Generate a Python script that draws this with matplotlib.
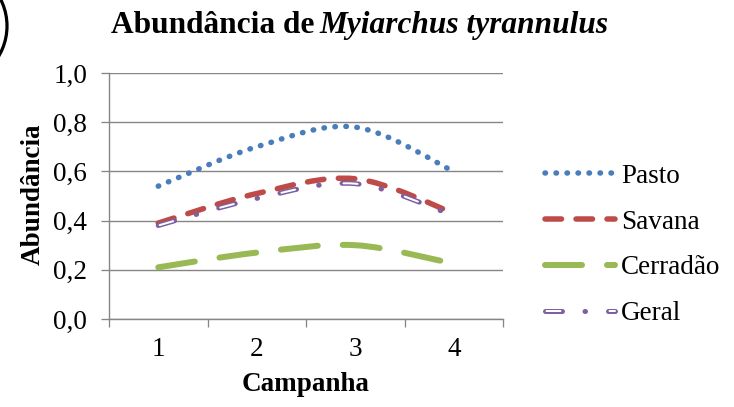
import numpy as np
import matplotlib.pyplot as plt
from matplotlib.path import Path
from matplotlib.patches import PathPatch, Circle
from matplotlib.lines import Line2D
from matplotlib.legend_handler import HandlerTuple

plt.rcParams['font.family'] = ['Liberation Serif', 'DejaVu Serif']
plt.rcParams['lines.scale_dashes'] = False

campanhas = [1, 2, 3, 4]
pasto = [0.54, 0.70, 0.78, 0.60]
savana = [0.39, 0.51, 0.57, 0.43]
cerradao = [0.21, 0.27, 0.30, 0.225]
geral = [0.38, 0.49, 0.55, 0.42]
series_names = ['Pasto', 'Savana', 'Cerradão', 'Geral']
y_ticks = [0.0, 0.2, 0.4, 0.6, 0.8, 1.0]
y_labels = ['0,0', '0,2', '0,4', '0,6', '0,8', '1,0']

W, H = 734, 407
PX = 0.72  # pixels -> points at dpi 100
GRAY = '#868686'
FS = 19.5


def smooth_path(xs, ys):
    # bezier curve through the points, like excel "smoothed line"
    pts = np.column_stack([xs, ys]).astype(float)
    n = len(pts)
    verts = [pts[0]]
    codes = [Path.MOVETO]
    for i in range(n - 1):
        p0 = pts[i - 1] if i > 0 else pts[i]
        p1 = pts[i]
        p2 = pts[i + 1]
        p3 = pts[i + 2] if i + 2 < n else pts[i + 1]
        verts += [p1 + (p2 - p0) / 6, p2 - (p3 - p1) / 6, p2]
        codes += [Path.CURVE4] * 3
    return Path(verts, codes)


def dash(pattern, offset=0):
    return (offset * PX, tuple(v * PX for v in pattern))


styles = {
    'Pasto': [dict(color='#4A7EBB', lw=5.5, ls=dash((0.5, 10.5)))],
    'Savana': [dict(color='#BE4B48', lw=5.5, ls=dash((16.5, 14.5)))],
    'Cerradão': [dict(color='#98B954', lw=6, ls=dash((37, 25)))],
    'Geral': [dict(color='#7D60A0', lw=5, ls=dash((17, 22.5, 0.5, 23))),
              dict(color='white', lw=2, ls=dash((14, 49), 61.5))],
}

fig = plt.figure(figsize=(W / 100, H / 100), dpi=100)
ax = fig.add_axes([109 / W, 1 - 319 / H, (503 - 109) / W, (319 - 73) / H])

handles = []
for name, vals in zip(series_names, [pasto, savana, cerradao, geral]):
    parts = []
    for st in styles[name]:
        patch = PathPatch(smooth_path(campanhas, vals), fill=False,
                          edgecolor=st['color'], lw=st['lw'] * PX,
                          linestyle=st['ls'], capstyle='round', joinstyle='round')
        ax.add_patch(patch)
        parts.append(Line2D([], [], color=st['color'], lw=st['lw'] * PX,
                            linestyle=st['ls'], dash_capstyle='round'))
    handles.append(parts[0] if len(parts) == 1 else tuple(parts))

ax.set_xlim(0.5, 4.5)
ax.set_ylim(0, 1)
ax.set_xticks(np.arange(0.5, 5, 1))
ax.set_xticklabels([])
ax.set_xticks(campanhas, labels=[str(c) for c in campanhas], minor=True)
ax.set_yticks(y_ticks, labels=y_labels)
ax.tick_params(which='major', direction='out', length=8 * PX, width=1.3 * PX,
               color=GRAY, labelsize=FS, pad=10)
ax.tick_params(axis='x', which='minor', length=0, labelsize=FS, pad=13)
ax.yaxis.grid(True, color=GRAY, lw=1.4 * PX)
ax.set_axisbelow(True)
for s in ['top', 'right']:
    ax.spines[s].set_visible(False)
for s in ['left', 'bottom']:
    ax.spines[s].set_color(GRAY)
    ax.spines[s].set_linewidth(1.4 * PX)

# title with italic species name
fig.text(111 / W, 1 - 33 / H, 'Abundância de', fontsize=22.6,
         fontweight='bold', va='baseline', ha='left')
fig.text(319 / W, 1 - 33 / H, 'Myiarchus tyrannulus', fontsize=22.6,
         fontweight='bold', fontstyle='italic', va='baseline', ha='left')

fig.text(33 / W, 1 - 194 / H, 'Abundância', fontsize=FS, fontweight='bold',
         rotation=90, va='center', ha='center')
fig.text(306 / W, 1 - 391 / H, 'Campanha', fontsize=FS, fontweight='bold',
         va='baseline', ha='center')

fig.legend(handles, series_names, loc='center left',
           bbox_to_anchor=(545 / W, 1 - 245 / H), frameon=False, fontsize=FS,
           handlelength=70 / 27, handletextpad=6 / 27, labelspacing=0.77,
           borderpad=0, borderaxespad=0,
           handler_map={tuple: HandlerTuple(ndivide=1, pad=0)})

# panel letter circle, cut off at the corner
circ = Circle((-52 / 100, (H - 26) / 100), 0.59, fill=False, lw=3.2 * PX,
              edgecolor='black', transform=fig.dpi_scale_trans, clip_on=False)
fig.add_artist(circ)

fig.savefig('out.png', dpi=100)
